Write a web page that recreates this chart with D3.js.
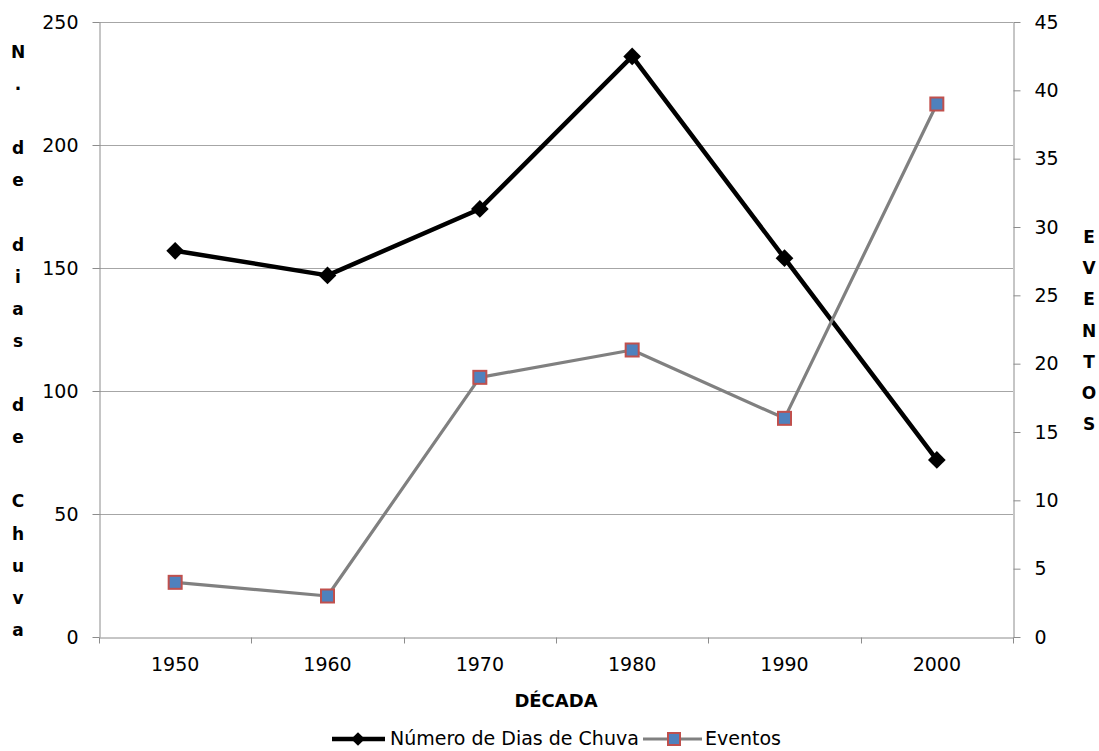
<!DOCTYPE html>
<html>
<head>
<meta charset="utf-8">
<script src="https://cdn.jsdelivr.net/npm/d3@7"></script>
<style>
  html, body { margin: 0; padding: 0; background: #fff; }
  svg { display: block; }
  text { font-family: "DejaVu Sans", sans-serif; fill: #000; }
</style>
</head>
<body>
<svg id="chart" width="1099" height="751"></svg>
<script>
// Decades on the category axis
const decades = ["1950", "1960", "1970", "1980", "1990", "2000"];
// Number of rainy days per decade (left axis)
const diasChuva = [157, 147, 174, 236, 154, 72];
// Number of events per decade (right axis)
const eventos = [4, 3, 19, 21, 16, 39];
// Axis ticks
const leftTicks = [0, 50, 100, 150, 200, 250];
const rightTicks = [0, 5, 10, 15, 20, 25, 30, 35, 40, 45];

const leftTitle = "N. de dias de Chuva";
const rightTitle = "EVENTOS";
const xTitle = "DÉCADA";
const seriesNames = ["Número de Dias de Chuva", "Eventos"];

const W = 1099, H = 751;
const m = { left: 99, right: 1013, top: 22, bottom: 637 };
const tickFont = "19px";

const svg = d3.select("#chart");

const x = d3.scaleBand().domain(decades).range([m.left, m.right]).padding(0);
const yL = d3.scaleLinear().domain([0, 250]).range([m.bottom, m.top]);
const yR = d3.scaleLinear().domain([0, 45]).range([m.bottom, m.top]);

const axisColor = "#8c8c8c";
const gridColor = "#a6a6a6";

// Horizontal gridlines from the left axis
svg.append("g")
  .selectAll("line")
  .data(leftTicks.filter(d => d > 0))
  .join("line")
  .attr("x1", m.left).attr("x2", m.right)
  .attr("y1", d => Math.round(yL(d)) + 0.5).attr("y2", d => Math.round(yL(d)) + 0.5)
  .attr("stroke", gridColor).attr("stroke-width", 1);

function styleTicks(g) {
  g.select(".domain").attr("stroke", axisColor);
  g.selectAll(".tick line").attr("stroke", axisColor);
  g.selectAll(".tick text").style("font-size", tickFont).attr("fill", "#111")
    .style("font-family", "DejaVu Sans, sans-serif");
}

// Left axis
const gL = svg.append("g")
  .attr("transform", `translate(${m.left + 0.5},0)`)
  .call(d3.axisLeft(yL).tickValues(leftTicks).tickSize(7).tickPadding(14).tickSizeOuter(0));
styleTicks(gL);

// Right axis
const gR = svg.append("g")
  .attr("transform", `translate(${m.right + 0.5},0)`)
  .call(d3.axisRight(yR).tickValues(rightTicks).tickSize(7).tickPadding(14).tickSizeOuter(0));
styleTicks(gR);

// Category axis with ticks on band boundaries
const gX = svg.append("g")
  .attr("transform", `translate(0,${m.bottom + 0.5})`)
  .call(d3.axisBottom(x).tickSize(0).tickPadding(20));
styleTicks(gX);
const bounds = decades.map(d => x(d)).concat([x(decades[decades.length - 1]) + x.bandwidth()]);
gX.append("g").selectAll("line")
  .data(bounds)
  .join("line")
  .attr("x1", d => Math.round(d) + 0.5).attr("x2", d => Math.round(d) + 0.5)
  .attr("y1", 0).attr("y2", 6)
  .attr("stroke", axisColor);

const cx = d => x(d) + x.bandwidth() / 2;

// Rainy-days series
const lineL = d3.line().x((d, i) => cx(decades[i])).y(d => yL(d));
svg.append("path")
  .datum(diasChuva)
  .attr("d", lineL)
  .attr("fill", "none").attr("stroke", "#000").attr("stroke-width", 4.5)
  .attr("stroke-linejoin", "round");

// Events series
const lineR = d3.line().x((d, i) => cx(decades[i])).y(d => yR(d));
svg.append("path")
  .datum(eventos)
  .attr("d", lineR)
  .attr("fill", "none").attr("stroke", "#808080").attr("stroke-width", 3.2)
  .attr("stroke-linejoin", "round");

const diamond = d3.symbol().type(d3.symbolDiamond2).size(200);
svg.append("g").selectAll("path")
  .data(diasChuva)
  .join("path")
  .attr("d", diamond)
  .attr("transform", (d, i) => `translate(${cx(decades[i])},${yL(d)})`)
  .attr("fill", "#000");

svg.append("g").selectAll("rect")
  .data(eventos)
  .join("rect")
  .attr("x", (d, i) => cx(decades[i]) - 6.5)
  .attr("y", d => yR(d) - 6.5)
  .attr("width", 13).attr("height", 13)
  .attr("fill", "#4f81bd").attr("stroke", "#c0504d").attr("stroke-width", 2);

// Stacked vertical axis titles
function stacked(str, xPos, y0, step) {
  const t = svg.append("text")
    .attr("text-anchor", "middle")
    .style("font-size", "17px").style("font-weight", "bold");
  str.split("").forEach((ch, i) => {
    t.append("tspan")
      .attr("x", xPos)
      .attr("y", y0 + i * step + 6)
      .text(ch === " " ? "\u00a0" : ch);
  });
}
stacked(leftTitle, 18, 52, 32.1);
stacked(rightTitle, 1089, 237, 31.2);

// Category axis title
svg.append("text")
  .attr("x", (m.left + m.right) / 2).attr("y", 707)
  .attr("text-anchor", "middle")
  .style("font-size", "18px").style("font-weight", "bold")
  .text(xTitle);

// Legend
const lg = svg.append("g");
const ly = 739;
const lBase = 745;
lg.append("line").attr("x1", 332).attr("x2", 385).attr("y1", ly).attr("y2", ly)
  .attr("stroke", "#000").attr("stroke-width", 4.5);
lg.append("path").attr("d", d3.symbol().type(d3.symbolDiamond2).size(120))
  .attr("transform", `translate(358,${ly})`).attr("fill", "#000");
lg.append("text").attr("x", 390).attr("y", lBase)
  .style("font-size", "19px").text(seriesNames[0]);
lg.append("line").attr("x1", 643).attr("x2", 702).attr("y1", ly).attr("y2", ly)
  .attr("stroke", "#808080").attr("stroke-width", 3.2);
lg.append("rect").attr("x", 668).attr("y", ly - 6).attr("width", 12).attr("height", 12)
  .attr("fill", "#4f81bd").attr("stroke", "#c0504d").attr("stroke-width", 2);
lg.append("text").attr("x", 705).attr("y", lBase)
  .style("font-size", "19px").text(seriesNames[1]);
</script>
</body>
</html>
